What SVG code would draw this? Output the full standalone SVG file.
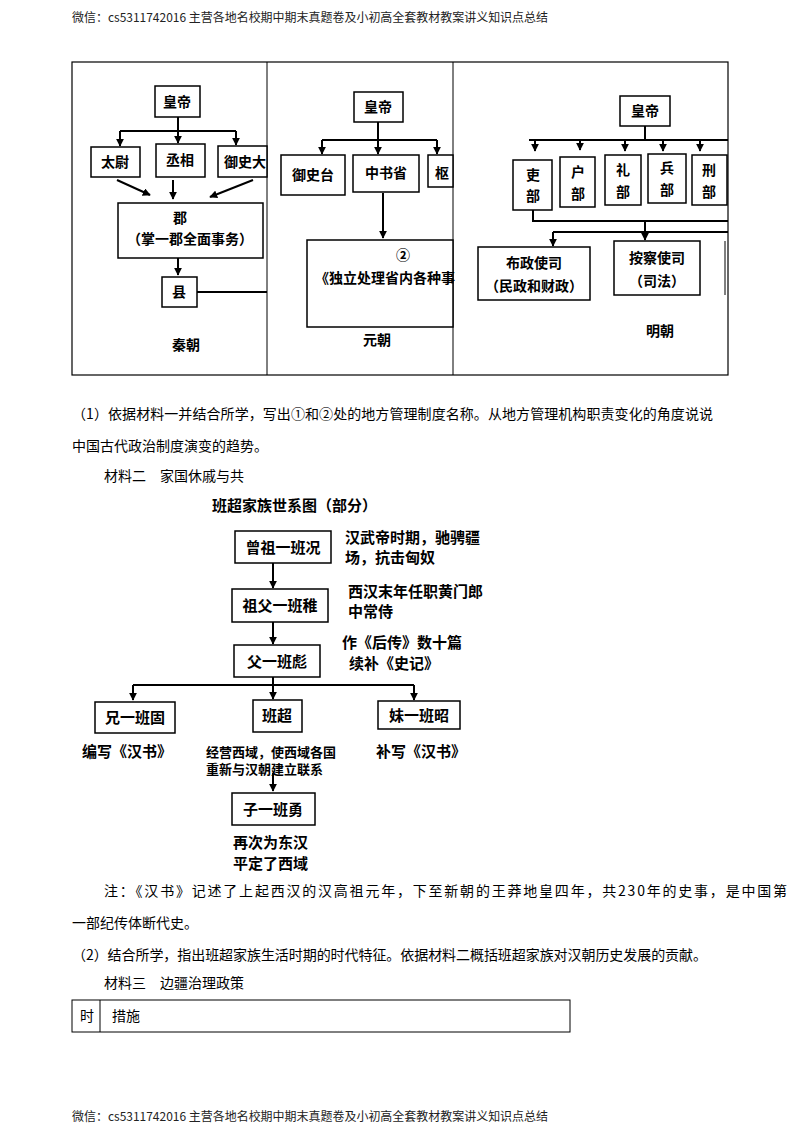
<svg xmlns="http://www.w3.org/2000/svg" width="800" height="1132" viewBox="0 0 800 1132">
<style>
text{font-family:"Noto Sans CJK SC",sans-serif;fill:#000}
.h{font-size:12px;fill:#222}
.b{font-size:14px}
.d{font-size:14px;font-weight:bold}
.f{font-size:15px;font-weight:bold}
rect{fill:#fff;stroke:#000;stroke-width:1.5}
.l{fill:none;stroke:#000;stroke-width:2}
.t{fill:none;stroke:#000;stroke-width:1}
</style>
<defs><marker id="a" viewBox="0 0 10 10" refX="9" refY="5" markerWidth="4" markerHeight="4" orient="auto"><path d="M0,0L10,5L0,10z"/></marker></defs>
<rect width="800" height="1132" style="stroke:none"/>
<text class="h" x="72" y="22" textLength="476" lengthAdjust="spacingAndGlyphs">微信：cs5311742016  主营各地名校期中期末真题卷及小初高全套教材教案讲义知识点总结</text>
<text class="h" x="72" y="1121" textLength="476" lengthAdjust="spacingAndGlyphs">微信：cs5311742016  主营各地名校期中期末真题卷及小初高全套教材教案讲义知识点总结</text>
<rect x="72" y="62" width="656" height="313" class="t" style="fill:none;stroke-width:1.2"/>
<line x1="267" y1="62" x2="267" y2="375" class="t"/>
<line x1="453" y1="62" x2="453" y2="375" class="t"/>
<g id="connectors">
<path class="l" d="M178,117V131M120,131H236"/>
<path class="l" d="M120,131V146" marker-end="url(#a)"/><path class="l" d="M178,131V143" marker-end="url(#a)"/><path class="l" d="M236,131V145" marker-end="url(#a)"/>
<path class="l" d="M117,180L150,195" marker-end="url(#a)"/><path class="l" d="M173,180V199" marker-end="url(#a)"/><path class="l" d="M253,180L210,197" marker-end="url(#a)"/>
<path class="l" d="M178,258V275" marker-end="url(#a)"/>
<path class="l" d="M197,292H267"/>
<path class="l" d="M378,122V140M322,140H437"/>
<path class="l" d="M322,140V154" marker-end="url(#a)"/><path class="l" d="M378,140V154" marker-end="url(#a)"/><path class="l" d="M437,140V154" marker-end="url(#a)"/>
<path class="l" d="M383,193V238" marker-end="url(#a)"/>
<path class="l" d="M645,126V140M529,140H728"/>
<path class="l" d="M535,140V151" marker-end="url(#a)"/><path class="l" d="M580,140V150" marker-end="url(#a)"/><path class="l" d="M625,140V151" marker-end="url(#a)"/><path class="l" d="M663,140V151" marker-end="url(#a)"/><path class="l" d="M700,140V151" marker-end="url(#a)"/>
<path class="l" d="M533,210V221H728M645,221V238M553,232H728"/>
<path class="l" d="M553,232V246" marker-end="url(#a)"/><path class="l" d="M645,232V240" marker-end="url(#a)"/>
<path class="l" d="M273,563V588" marker-end="url(#a)"/>
<path class="l" d="M273,622V644" marker-end="url(#a)"/>
<path class="l" d="M273,677V685M133,685H414"/>
<path class="l" d="M133,685V700" marker-end="url(#a)"/><path class="l" d="M273,685V699" marker-end="url(#a)"/><path class="l" d="M414,685V700" marker-end="url(#a)"/>
<path class="l" d="M273,773V791" marker-end="url(#a)"/>
</g>
<g id="qin">
<g id="q1"><rect x="155" y="86" width="45" height="31"/><text class="d" x="177" y="107" text-anchor="middle">皇帝</text></g>
<g id="q2"><rect x="91" y="147" width="49" height="30"/><text class="d" x="115" y="167" text-anchor="middle">太尉</text></g>
<g id="q3"><rect x="156" y="144" width="49" height="33"/><text class="d" x="180" y="165" text-anchor="middle">丞相</text></g>
<g id="q4"><rect x="218" y="146" width="49" height="31"/><text class="d" x="224" y="167">御史大</text></g>
<g id="q5"><rect x="118" y="203" width="145" height="55"/><text class="d" x="180" y="223" text-anchor="middle">郡</text><text class="d" x="190" y="244" text-anchor="middle">（掌一郡全面事务）</text></g>
<g id="q6"><rect x="162" y="277" width="35" height="30"/><text class="d" x="179" y="297" text-anchor="middle">县</text></g>
<text class="d" x="186" y="350" text-anchor="middle">秦朝</text>
</g>
<g id="yuan">
<g id="y1"><rect x="354" y="92" width="49" height="30"/><text class="d" x="378" y="112" text-anchor="middle">皇帝</text></g>
<g id="y2"><rect x="281" y="155" width="64" height="40"/><text class="d" x="313" y="180" text-anchor="middle">御史台</text></g>
<g id="y3"><rect x="353" y="155" width="66" height="37"/><text class="d" x="386" y="178" text-anchor="middle">中书省</text></g>
<g id="y4"><rect x="428" y="155" width="25" height="32"/><text class="d" x="435" y="178">枢</text></g>
<g id="y5"><rect x="307" y="240" width="146" height="87"/><text class="d" x="403" y="260" text-anchor="middle">②</text><text class="d" x="315" y="283">《独立处理省内各种事</text></g>
<text class="d" x="377" y="345" text-anchor="middle">元朝</text>
</g>
<g id="ming">
<g id="m0"><rect x="620" y="96" width="50" height="30"/><text class="d" x="645" y="116" text-anchor="middle">皇帝</text></g>
<g id="m1"><rect x="513" y="160" width="39" height="50"/><text class="d" x="533" y="180" text-anchor="middle">吏</text><text class="d" x="533" y="201" text-anchor="middle">部</text></g>
<g id="m2"><rect x="560" y="157" width="35" height="50"/><text class="d" x="578" y="177" text-anchor="middle">户</text><text class="d" x="578" y="199" text-anchor="middle">部</text></g>
<g id="m3"><rect x="605" y="155" width="36" height="50"/><text class="d" x="623" y="175" text-anchor="middle">礼</text><text class="d" x="623" y="197" text-anchor="middle">部</text></g>
<g id="m4"><rect x="648" y="154" width="38" height="49"/><text class="d" x="667" y="173" text-anchor="middle">兵</text><text class="d" x="667" y="195" text-anchor="middle">部</text></g>
<g id="m5"><rect x="692" y="155" width="35" height="50"/><text class="d" x="709" y="175" text-anchor="middle">刑</text><text class="d" x="709" y="197" text-anchor="middle">部</text></g>
<g id="m6"><rect x="478" y="247" width="112" height="53"/><text class="d" x="534" y="268" text-anchor="middle">布政使司</text><text class="d" x="534" y="291" text-anchor="middle">（民政和财政）</text></g>
<g id="m7"><rect x="614" y="241" width="86" height="54"/><text class="d" x="657" y="263" text-anchor="middle">按察使司</text><text class="d" x="657" y="286" text-anchor="middle">（司法）</text></g>
<line x1="725" y1="241" x2="725" y2="295" class="t"/>
<text class="d" x="660" y="336" text-anchor="middle">明朝</text>
</g>
<text class="b" x="72" y="419" textLength="641" lengthAdjust="spacing">（1）依据材料一并结合所学，写出①和②处的地方管理制度名称。从地方管理机构职责变化的角度说说</text>
<text class="b" x="72" y="451">中国古代政治制度演变的趋势。</text>
<text class="b" x="104" y="481">材料二　家国休戚与共</text>
<text class="f" x="212" y="511">班超家族世系图（部分）</text>
<g id="f1"><rect x="235" y="531" width="96" height="32"/><text class="f" x="283" y="553" text-anchor="middle">曾祖一班况</text></g>
<text class="f" x="345" y="543">汉武帝时期，驰骋疆</text><text class="f" x="345" y="563">场，抗击匈奴</text>
<g id="f2"><rect x="232" y="589" width="96" height="33"/><text class="f" x="280" y="611" text-anchor="middle">祖父一班稚</text></g>
<text class="f" x="348" y="597">西汉末年任职黄门郎</text><text class="f" x="348" y="617">中常侍</text>
<g id="f3"><rect x="234" y="645" width="86" height="32"/><text class="f" x="277" y="667" text-anchor="middle">父一班彪</text></g>
<text class="f" x="342" y="648">作《后传》数十篇</text><text class="f" x="349" y="669">续补《史记》</text>
<g id="f4"><rect x="95" y="702" width="80" height="31"/><text class="f" x="135" y="723" text-anchor="middle">兄一班固</text></g>
<g id="f5"><rect x="253" y="700" width="49" height="32"/><text class="f" x="277" y="721" text-anchor="middle">班超</text></g>
<g id="f6"><rect x="378" y="701" width="82" height="28"/><text class="f" x="419" y="721" text-anchor="middle">妹一班昭</text></g>
<text class="f" x="82" y="757">编写《汉书》</text>
<text class="f" x="206" y="757" style="font-size:13px">经营西域，使西域各国</text>
<text class="f" x="206" y="774" style="font-size:13px">重新与汉朝建立联系</text>
<text class="f" x="376" y="757">补写《汉书》</text>
<g id="f7"><rect x="232" y="793" width="83" height="32"/><text class="f" x="273" y="815" text-anchor="middle">子一班勇</text></g>
<text class="f" x="233" y="848">再次为东汉</text><text class="f" x="233" y="869">平定了西域</text>
<text class="b" x="104" y="896" textLength="683" lengthAdjust="spacing">注：《汉书》记述了上起西汉的汉高祖元年，下至新朝的王莽地皇四年，共230年的史事，是中国第</text>
<text class="b" x="72" y="928">一部纪传体断代史。</text>
<text class="b" x="72" y="960" textLength="635" lengthAdjust="spacing">（2）结合所学，指出班超家族生活时期的时代特征。依据材料二概括班超家族对汉朝历史发展的贡献。</text>
<text class="b" x="104" y="988">材料三　边疆治理政策</text>
<rect x="72" y="1000" width="498" height="32" class="t" style="fill:none"/>
<line x1="100" y1="1000" x2="100" y2="1032" class="t"/>
<text class="b" x="80" y="1021">时</text><text class="b" x="112" y="1021">措施</text>
</svg>
